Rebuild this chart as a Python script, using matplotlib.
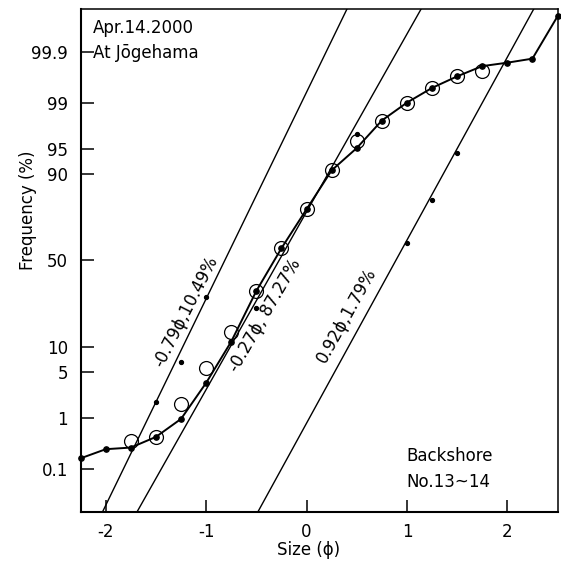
import math
import numpy as np
import matplotlib
matplotlib.use("Agg")
from matplotlib import pyplot as plt

# grain size (phi) of the sieve classes
size_phi = [-2.25, -2.0, -1.75, -1.5, -1.25, -1.0, -0.75, -0.5, -0.25, 0.0,
            0.25, 0.5, 0.75, 1.0, 1.25, 1.5, 1.75, 2.0, 2.25, 2.5]
# observed cumulative frequency (%), black dots
observed_pct = [0.17, 0.26, 0.28, 0.45, 0.95, 3.5, 11.5, 32.6, 57.2, 77.6,
                90.9, 95.2, 98.09, 99.03, 99.47, 99.68, 99.80, 99.83, 99.86, 99.985]

# fitted mixture (%), open circles
fit_phi = [-1.75, -1.5, -1.25, -1.0, -0.75, -0.5, -0.25, 0.0, 0.25, 0.5,
           0.75, 1.0, 1.25, 1.5, 1.75]
fit_pct = [0.38, 0.45, 1.68, 5.6, 14.6, 32.6, 57.2, 77.6, 90.9, 96.2,
           98.09, 99.03, 99.47, 99.68, 99.75]

# component populations: mean / sorting of the straight lines as drawn
comp_labels = ["-0.79ϕ,10.49%", "-0.27ϕ, 87.27%", "0.92ϕ,1.79%"]
comp_mean = [-0.815, -0.274, 0.889]
comp_sigma = [0.327, 0.380, 0.369]
comp_dot_phi = [[-1.5, -1.25, -1.0], [-0.5, 0.5], [1.0, 1.25, 1.5]]
comp_dot_pct = [[1.83, 6.7, 29.6], [24.0, 96.97], [60.5, 81.5, 94.4]]

ytick_pct = [0.1, 1, 5, 10, 50, 90, 95, 99, 99.9]
ytick_labels = ["0.1", "1", "5", "10", "50", "90", "95", "99", "99.9"]
xticks = [-2, -1, 0, 1, 2]


def ncdf(z):
    return 0.5 * (1 + math.erf(z / math.sqrt(2)))


def prob_z(pct):
    # inverse normal by bisection, percent -> z
    out = []
    for p in np.atleast_1d(pct):
        p = p / 100.0
        lo, hi = -8.0, 8.0
        for _ in range(80):
            mid = 0.5 * (lo + hi)
            if ncdf(mid) < p:
                lo = mid
            else:
                hi = mid
        out.append(0.5 * (lo + hi))
    return np.array(out)


plt.rcParams['font.family'] = ['DejaVu Sans']
fig = plt.figure(figsize=(5.61, 5.69), dpi=100)
ax = fig.add_axes([0.1438, 0.1007, 0.85, 0.883])

zlim = 3.72
xmin, xmax = -2.25, 2.5

# component lines
xx = np.array([xmin, xmax])
for m, s, dp, dv in zip(comp_mean, comp_sigma, comp_dot_phi, comp_dot_pct):
    ax.plot(xx, (xx - m) / s, color='black', lw=1.0)
    ax.plot(dp, prob_z(dv), 'o', color='black', ms=2.8)

# observed curve
ax.plot(size_phi, prob_z(observed_pct), '-o', color='black', lw=1.4, ms=3.8,
        clip_on=False, zorder=4)
# fitted
ax.plot(fit_phi, prob_z(fit_pct), 'o', mfc='none', mec='black', ms=10,
        mew=0.9, zorder=5)

ax.set_xlim(xmin, xmax)
ax.set_ylim(-zlim, zlim)
ax.set_yticks(prob_z(ytick_pct))
ax.set_yticklabels(ytick_labels)
ax.set_xticks(xticks)
ax.set_xticklabels([str(v).replace('-', '-') for v in xticks])

ax.tick_params(axis='y', direction='in', length=9.5, width=1.1, pad=9,
               labelsize=12)
ax.tick_params(axis='x', direction='in', length=9, width=1.1, pad=8,
               labelsize=12)
for side in ['left', 'bottom']:
    ax.spines[side].set_linewidth(1.5)
for side in ['top', 'right']:
    ax.spines[side].set_linewidth(1.1)

# component labels
rot = [63, 60, 61]
lab_pos = [(-1.20, -0.76), (-0.417, -0.81), (0.396, -0.82)]
for t, (px, pz), r in zip(comp_labels, lab_pos, rot):
    ax.text(px, pz, t, rotation=r, ha='center', va='center', fontsize=12,
            rotation_mode='anchor')

ax.text(0.026, 0.963, "Apr.14.2000", transform=ax.transAxes, fontsize=12,
        va='center', ha='left')
ax.text(0.026, 0.913, "At Jōgehama", transform=ax.transAxes, fontsize=12,
        va='center', ha='left')
ax.text(0.684, 0.111, "Backshore", transform=ax.transAxes, fontsize=12,
        va='center', ha='left')
ax.text(0.684, 0.060, "No.13~14", transform=ax.transAxes, fontsize=12,
        va='center', ha='left')

fig.text(28 / 561, 1 - 210 / 569, "Frequency (%)", rotation=90, fontsize=12,
         ha='center', va='center')
fig.text(309 / 561, 1 - 550 / 569, "Size (ϕ)", fontsize=12,
         ha='center', va='center')

fig.savefig("out.png", dpi=100)
